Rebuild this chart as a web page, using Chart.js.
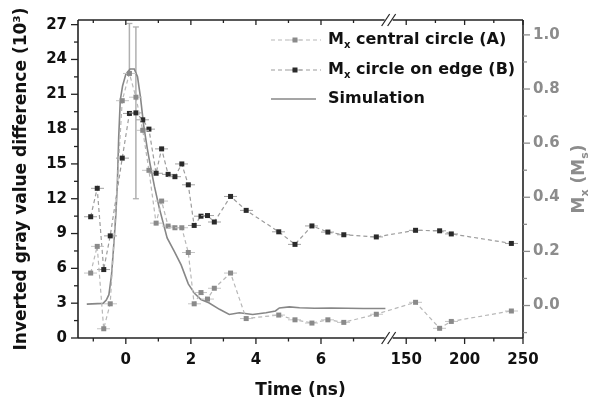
<!DOCTYPE html>
<html>
<head>
<meta charset="utf-8">
<script src="https://cdn.jsdelivr.net/npm/chart.js@4"></script>
<style>
  html, body { margin: 0; padding: 0; background: #fff; }
  #graph-wrap { width: 592px; height: 404px; }
</style>
</head>
<body>
<div id="graph-wrap"><canvas id="graph"></canvas></div>
<script>
// measured frames (ns), same for both circles
const times = [-1.08, -0.88, -0.68, -0.48, -0.11, 0.11, 0.31, 0.52, 0.71, 0.93, 1.10, 1.30, 1.51, 1.72, 1.92,
               2.10, 2.31, 2.51, 2.72, 3.22, 3.70, 4.70, 5.20, 5.72, 6.21, 6.70, 7.70, 158, 178.6, 188.6, 240];
// inverted gray value difference (10^3)
const centralA = [5.6, 7.9, 0.8, 2.95, 20.45, 22.8, 20.75, 17.9, 14.45, 9.9, 11.8, 9.65, 9.5, 9.5, 7.37,
                  2.95, 3.92, 3.36, 4.29, 5.6, 1.68, 1.98, 1.57, 1.29, 1.57, 1.35, 2.05, 3.08, 0.84, 1.43, 2.33];
const edgeB = [10.45, 12.9, 5.9, 8.8, 15.5, 19.35, 19.4, 18.8, 18.0, 14.2, 16.3, 14.1, 13.9, 15.0, 13.2,
               9.7, 10.5, 10.55, 10.0, 12.2, 11.0, 9.15, 8.07, 9.66, 9.13, 8.9, 8.71, 9.28, 9.24, 8.97, 8.15];

// simulation, Mx in units of Ms (right axis)
const simTimes = [-1.2, -0.7, -0.6, -0.52, -0.44, -0.38, -0.31, -0.26, -0.22, -0.17, -0.10, 0.0, 0.13, 0.26,
                  0.36, 0.45, 0.55, 0.66, 0.75, 0.88, 1.03, 1.27, 1.49, 1.70, 1.92, 2.11, 2.31, 2.55, 2.88,
                  3.18, 3.49, 3.9, 4.31, 4.6, 4.72, 5.03, 5.34, 5.8, 6.3, 6.8, 7.3, 7.98];
const simMx = [0.005, 0.008, 0.02, 0.04, 0.112, 0.208, 0.329, 0.45, 0.618, 0.759, 0.811, 0.854, 0.874, 0.874,
               0.845, 0.77, 0.665, 0.58, 0.52, 0.44, 0.36, 0.25, 0.20, 0.15, 0.08, 0.045, 0.022, 0.01, -0.014,
               -0.033, -0.027, -0.033, -0.027, -0.02, -0.009, -0.005, -0.008, -0.01, -0.009, -0.01, -0.011, -0.011];

// the two big vertical error bars around the peak
const errTimes = [0.11, 0.31];
const errLow = [22.8, 12.0];
const errHigh = [27.1, 26.8];

// tick labels
const xLabels = [0, 2, 4, 6, 150, 200, 250];
const xMinor = [-1, 1, 3, 5, 7, 175, 225];
const yLabels = [0, 3, 6, 9, 12, 15, 18, 21, 24, 27];
const yMinor = [1.5, 4.5, 7.5, 10.5, 13.5, 16.5, 19.5, 22.5, 25.5];
const y1Labels = [0.0, 0.2, 0.4, 0.6, 0.8, 1.0];
const y1Minor = [-0.1, 0.1, 0.3, 0.5, 0.7, 0.9];

// broken time axis: 0..8 ns linear, then 150..250 ns squeezed in
const BREAK_AT = 8.08;
function tx(t) {
    return t < 100 ? t : 8.62 + (t - 150) * (1.795 / 50);
}

function makeMarker(fill, bar) {
    const c = document.createElement('canvas');
    c.width = 13; c.height = 7;
    const g = c.getContext('2d');
    g.fillStyle = bar;
    g.fillRect(0, 3, 13, 1);
    g.fillStyle = fill;
    g.fillRect(4, 1, 5, 5);
    return c;
}
const markerA = makeMarker('#8a8a8a', '#c4c4c4');
const markerB = makeMarker('#2a2a2a', '#a0a0a0');

const FONT = 'DejaVu Sans';

// frame, tick marks and the // break marks
const framePlugin = {
    id: 'frame',
    afterDraw(chart) {
        const { ctx, chartArea: a, scales } = chart;
        const xs = scales.x, yl = scales.y, yr = scales.y1;
        const bx = xs.getPixelForValue(BREAK_AT);
        ctx.save();
        const seg = (x1, y1, x2, y2) => { ctx.beginPath(); ctx.moveTo(x1, y1); ctx.lineTo(x2, y2); ctx.stroke(); };

        ctx.strokeStyle = '#222';
        ctx.lineWidth = 1.6;
        seg(a.left, a.top, a.left, a.bottom);
        seg(a.right, a.top, a.right, a.bottom);
        seg(a.left, a.bottom, bx - 4, a.bottom);
        seg(bx + 4, a.bottom, a.right, a.bottom);
        seg(a.left, a.top, bx - 4, a.top);
        seg(bx + 4, a.top, a.right, a.top);

        ctx.lineWidth = 1.2;
        [-3, 3].forEach(d => {
            seg(bx + d - 4, a.bottom + 6, bx + d + 4, a.bottom - 6);
            seg(bx + d - 4, a.top + 6, bx + d + 4, a.top - 6);
        });

        ctx.lineWidth = 1.3;
        xLabels.forEach(v => {
            const p = xs.getPixelForValue(tx(v));
            seg(p, a.bottom, p, a.bottom + 6);
            seg(p, a.top, p, a.top + 5);
        });
        xMinor.forEach(v => {
            const p = xs.getPixelForValue(tx(v));
            seg(p, a.bottom, p, a.bottom + 3.5);
            seg(p, a.top, p, a.top + 3);
        });
        yLabels.forEach(v => { const p = yl.getPixelForValue(v); seg(a.left - 7, p, a.left, p); });
        yMinor.forEach(v => { const p = yl.getPixelForValue(v); seg(a.left - 4, p, a.left, p); });

        ctx.strokeStyle = '#8c8c8c';
        y1Labels.forEach(v => { const p = yr.getPixelForValue(v); seg(a.right, p, a.right + 7, p); });
        y1Minor.forEach(v => { const p = yr.getPixelForValue(v); seg(a.right, p, a.right + 4, p); });

        // right axis title: M_x (M_s), read bottom to top
        ctx.fillStyle = '#8c8c8c';
        ctx.textBaseline = 'middle';
        const big = 'bold 17px ' + FONT, small = 'bold 11px ' + FONT;
        const parts = [['M', big, 0], ['x', small, 5], [' (M', big, 0], ['s', small, 5], [')', big, 0]];
        let w = 0;
        parts.forEach(p => { ctx.font = p[1]; w += ctx.measureText(p[0]).width; });
        ctx.translate(580, (a.top + a.bottom) / 2);
        ctx.rotate(-Math.PI / 2);
        let cx = -w / 2;
        parts.forEach(p => { ctx.font = p[1]; ctx.fillText(p[0], cx, p[2]); cx += ctx.measureText(p[0]).width; });
        ctx.restore();
    }
};

// legend with subscripts
const legendPlugin = {
    id: 'legendBox',
    afterDraw(chart) {
        const ctx = chart.ctx;
        const rows = [
            { y: 40, ds: chart.data.datasets[0], marker: markerA, parts: [['M', 0], ['x', 1], [' central circle (A)', 0]] },
            { y: 70, ds: chart.data.datasets[1], marker: markerB, parts: [['M', 0], ['x', 1], [' circle on edge (B)', 0]] },
            { y: 99, ds: chart.data.datasets[2], marker: null, parts: [['Simulation', 0]] }
        ];
        ctx.save();
        rows.forEach(r => {
            ctx.strokeStyle = r.ds.borderColor;
            ctx.lineWidth = r.ds.borderWidth;
            ctx.setLineDash(r.ds.borderDash || []);
            ctx.beginPath();
            ctx.moveTo(271, r.y);
            ctx.lineTo(r.marker ? 321 : 316, r.y);
            ctx.stroke();
            ctx.setLineDash([]);
            if (r.marker) ctx.drawImage(r.marker, 295 - 6.5, r.y - 3.5);
            ctx.fillStyle = '#111';
            ctx.textBaseline = 'middle';
            let x = 328;
            r.parts.forEach(p => {
                ctx.font = p[1] ? 'bold 10px ' + FONT : 'bold 16px ' + FONT;
                ctx.fillText(p[0], x, r.y + (p[1] ? 5 : 0));
                x += ctx.measureText(p[0]).width;
            });
        });
        ctx.restore();
    }
};

const tickFont = { family: FONT, weight: 'bold', size: 15 };
const noGrid = { display: false, drawTicks: false };

new Chart(document.getElementById('graph'), {
    type: 'line',
    data: {
        datasets: [
            {
                label: 'Mx central circle (A)',
                data: times.map((t, i) => ({ x: tx(t), y: centralA[i] })),
                yAxisID: 'y',
                borderColor: '#b8b8b8',
                borderWidth: 1.2,
                borderDash: [4, 3],
                pointStyle: markerA,
                pointRadius: 4
            },
            {
                label: 'Mx circle on edge (B)',
                data: times.map((t, i) => ({ x: tx(t), y: edgeB[i] })),
                yAxisID: 'y',
                borderColor: '#9c9c9c',
                borderWidth: 1.2,
                borderDash: [4, 3],
                pointStyle: markerB,
                pointRadius: 4
            },
            {
                label: 'Simulation',
                data: simTimes.map((t, i) => ({ x: tx(t), y: simMx[i] })),
                yAxisID: 'y1',
                borderColor: '#878787',
                borderWidth: 1.6,
                pointRadius: 0
            },
            ...errTimes.map((t, i) => ({
                label: 'error ' + i,
                data: [{ x: tx(t), y: errLow[i] }, { x: tx(t), y: errHigh[i] }],
                yAxisID: 'y',
                borderColor: '#b0b0b0',
                borderWidth: 1.5,
                pointStyle: 'line',
                pointBorderColor: '#b0b0b0',
                pointBorderWidth: 1.3,
                pointRadius: i === 0 ? [0, 3] : 3
            }))
        ]
    },
    options: {
        responsive: true,
        maintainAspectRatio: false,
        animation: false,
        layout: { padding: { top: 11, left: 0, right: 0, bottom: 0 } },
        plugins: { legend: { display: false }, tooltip: { enabled: false } },
        scales: {
            x: {
                type: 'linear',
                min: -1.47,
                max: 12.21,
                grid: noGrid,
                border: { display: false },
                afterBuildTicks: s => { s.ticks = xLabels.map(v => ({ value: tx(v) })); },
                afterFit: s => { s.height = 66; },
                ticks: {
                    autoSkip: false, maxRotation: 0, padding: 13, color: '#111', font: tickFont,
                    callback: (v, i) => xLabels[i]
                },
                title: {
                    display: true, text: 'Time (ns)', color: '#111',
                    font: { family: FONT, weight: 'bold', size: 17 },
                    padding: { top: 0, bottom: 3 }
                }
            },
            y: {
                position: 'left',
                min: 0,
                max: 27.4,
                grid: noGrid,
                border: { display: false },
                afterBuildTicks: s => { s.ticks = yLabels.map(v => ({ value: v })); },
                afterFit: s => { s.width = 78; },
                ticks: { padding: 11, color: '#111', font: tickFont },
                title: {
                    display: true, text: 'Inverted gray value difference (10³)', color: '#111',
                    font: { family: FONT, weight: 'bold', size: 17 },
                    padding: { top: 11, bottom: 0 }
                }
            },
            y1: {
                position: 'right',
                min: -0.12,
                max: 1.055,
                grid: noGrid,
                border: { display: false },
                afterBuildTicks: s => { s.ticks = y1Labels.map(v => ({ value: v })); },
                afterFit: s => { s.width = 69; },
                ticks: { padding: 10, color: '#8c8c8c', font: tickFont, callback: v => v.toFixed(1) }
            }
        }
    },
    plugins: [framePlugin, legendPlugin]
});
</script>
</body>
</html>
